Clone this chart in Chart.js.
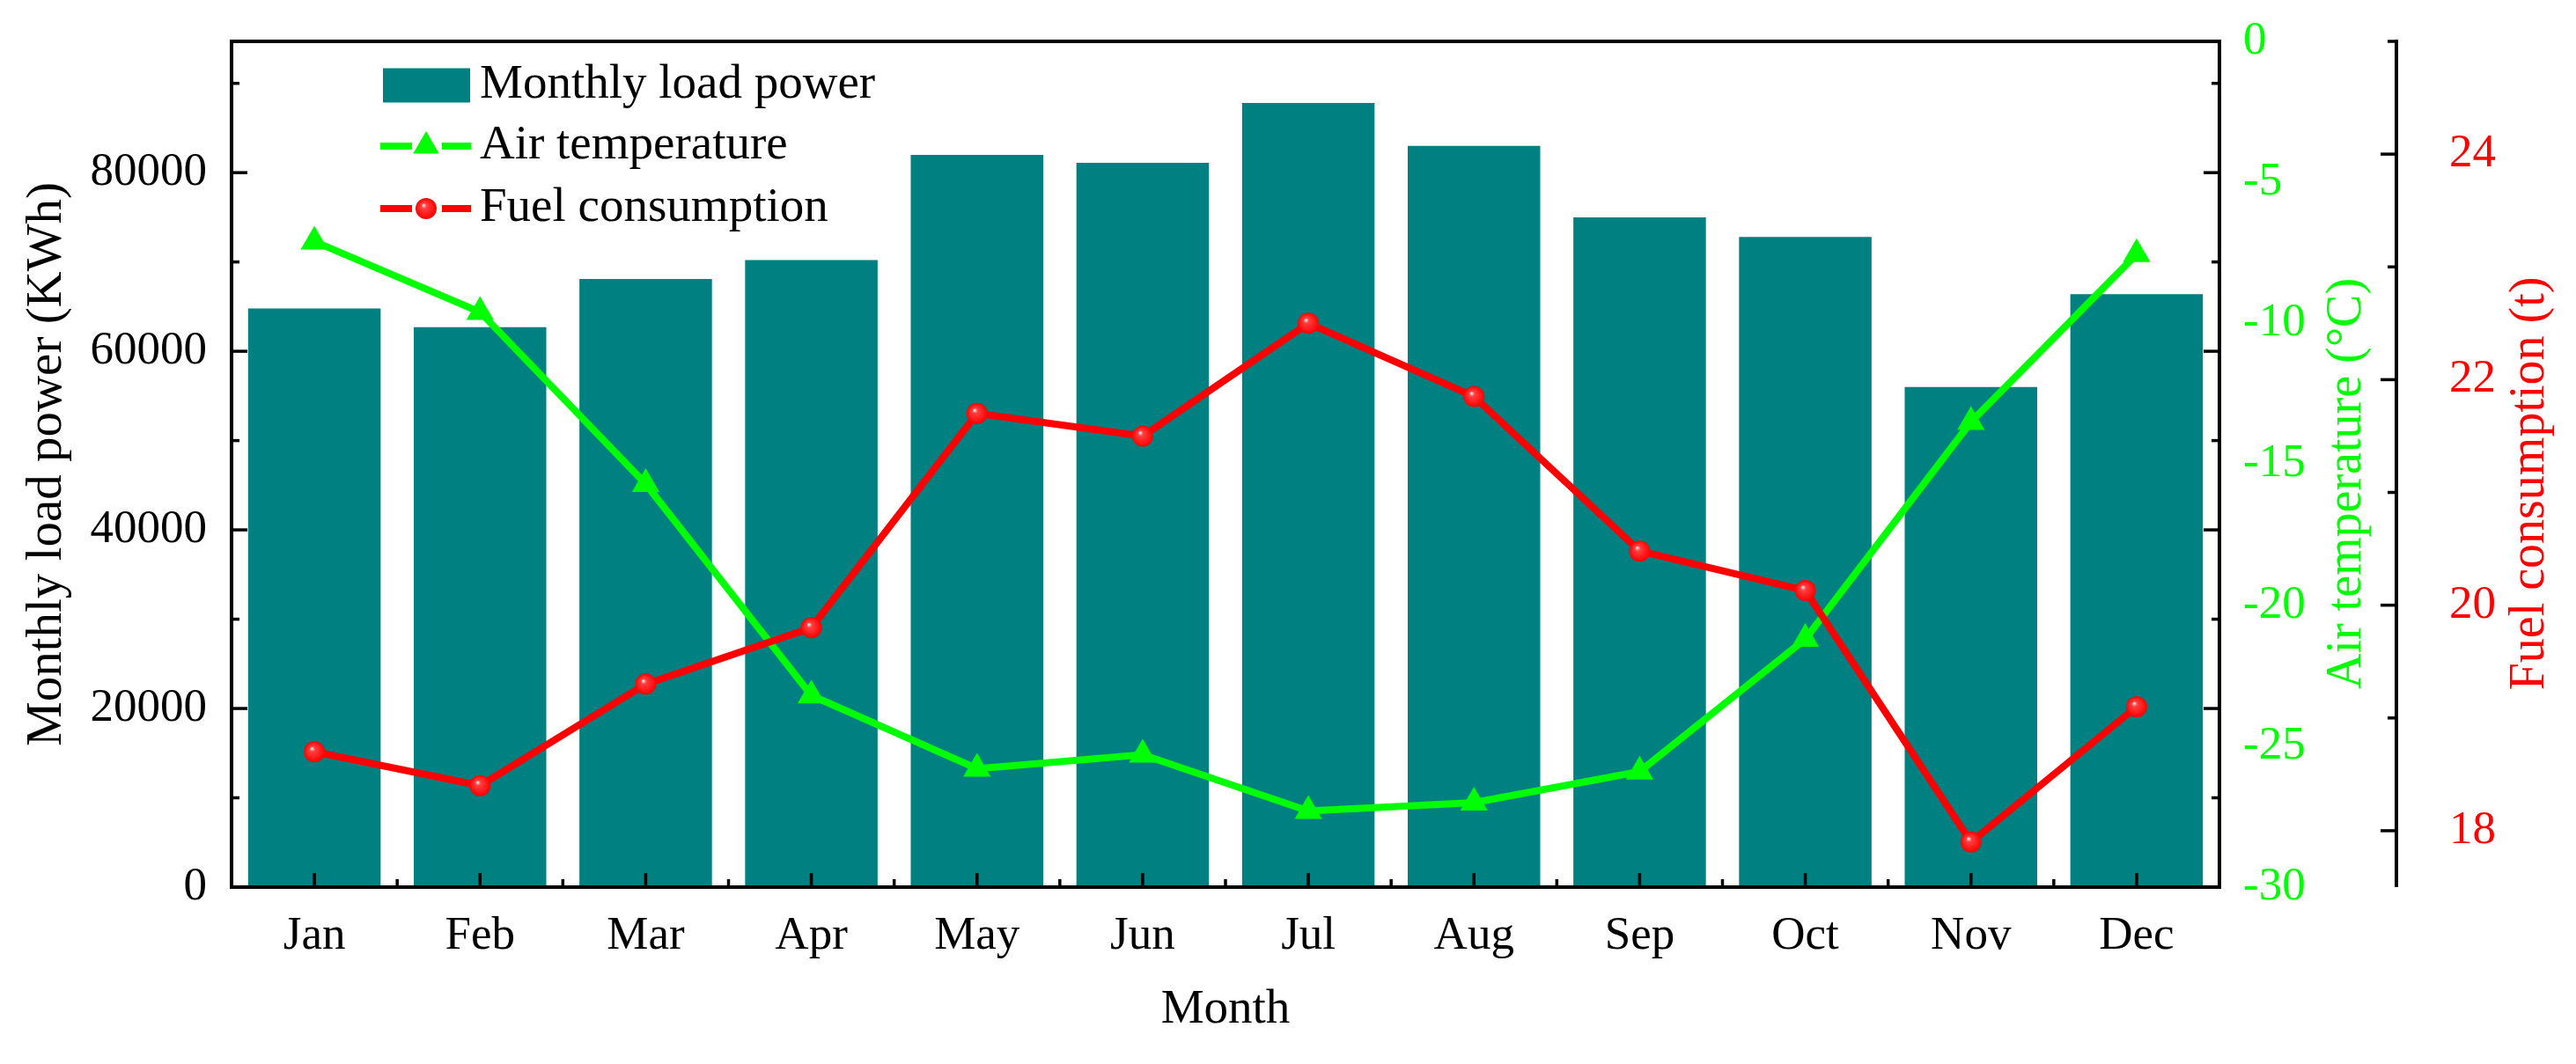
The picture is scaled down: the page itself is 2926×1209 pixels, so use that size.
<!DOCTYPE html>
<html>
<head>
<meta charset="utf-8">
<script src="https://cdn.jsdelivr.net/npm/chart.js@4.4.1/dist/chart.umd.min.js"></script>
<style>
  html, body { margin: 0; padding: 0; background: #fff; }
  #wrap { width: 2926px; height: 1209px; }
</style>
</head>
<body>
<div id="wrap"><canvas id="myChart"></canvas></div>
<script>
const months = ['Jan', 'Feb', 'Mar', 'Apr', 'May', 'Jun', 'Jul', 'Aug', 'Sep', 'Oct', 'Nov', 'Dec'];
const loadPower = [64800, 62700, 68100, 70200, 82000, 81100, 87800, 83000, 75000, 72800, 56000, 66400];
const airTemp = [-7.1, -9.6, -15.7, -23.2, -25.8, -25.3, -27.3, -27.0, -25.9, -21.2, -13.5, -7.55];
const fuelUse = [18.7, 18.4, 19.3, 19.8, 21.7, 21.5, 22.5, 21.85, 20.48, 20.13, 17.9, 19.1];

const loadTicks = [0, 20000, 40000, 60000, 80000];
const loadMinor = [10000, 30000, 50000, 70000, 90000];
const tempTicks = [0, -5, -10, -15, -20, -25, -30];
const fuelTicks = [18, 20, 22, 24];
const fuelMinor = [19, 21, 23, 25];

const TEAL = '#008080';
const GREEN = '#00ff00';
const RED = '#ff0000';
const FONT = '"Liberation Serif", "Times New Roman", serif';

function ballGradient(ctx, x, y) {
  const g = ctx.createRadialGradient(x - 3, y - 4, 0, x, y, 12);
  g.addColorStop(0, '#ffffff');
  g.addColorStop(0.25, '#ff4040');
  g.addColorStop(1, RED);
  return g;
}

// shiny red ball like the origin marker
function redBall(c) {
  const chart = c.chart;
  if (c.type !== 'data' || !chart.scales.x || !chart.scales.yFuel || !c.parsed) return RED;
  const x = chart.scales.x.getPixelForValue(c.dataIndex);
  const y = chart.scales.yFuel.getPixelForValue(c.parsed.y);
  if (!Number.isFinite(x) || !Number.isFinite(y)) return RED;
  return ballGradient(chart.ctx, x, y);
}

// keep chart.js from pushing the plot area in for overflowing labels
function noPad(s) {
  s.paddingTop = 0; s.paddingBottom = 0; s.paddingLeft = 0; s.paddingRight = 0;
}

const framePlugin = {
  id: 'frameTicks',
  afterDatasetsDraw(chart) {
    const { ctx, chartArea: a, scales } = chart;
    const line = (x1, y1, x2, y2) => {
      ctx.beginPath(); ctx.moveTo(x1, y1); ctx.lineTo(x2, y2); ctx.stroke();
    };
    ctx.save();
    ctx.strokeStyle = '#000';
    ctx.lineWidth = 4;
    ctx.strokeRect(a.left, a.top, a.right - a.left, a.bottom - a.top);

    ctx.lineWidth = 3.5;
    const yl = scales.yLoad;
    loadTicks.forEach(v => {
      const y = yl.getPixelForValue(v);
      line(a.left, y, a.left + 18, y);
      line(a.right, y, a.right - 18, y);
    });
    loadMinor.forEach(v => {
      const y = yl.getPixelForValue(v);
      line(a.left, y, a.left + 9, y);
      line(a.right, y, a.right - 9, y);
    });

    const xs = scales.x;
    months.forEach((m, i) => {
      const x = xs.getPixelForValue(i);
      line(x, a.bottom, x, a.bottom - 16);
      if (i > 0) {
        const b = (xs.getPixelForValue(i - 1) + x) / 2;
        line(b, a.bottom, b, a.bottom - 9);
      }
    });

    // fuel axis line
    const yf = scales.yFuel;
    ctx.lineWidth = 4;
    line(yf.left, a.top - 2, yf.left, a.bottom);
    ctx.lineWidth = 3.5;
    fuelTicks.forEach(v => {
      const y = yf.getPixelForValue(v);
      line(yf.left, y, yf.left - 18, y);
    });
    fuelMinor.forEach(v => {
      const y = yf.getPixelForValue(v);
      line(yf.left, y, yf.left - 10, y);
    });

    // right hand titles read bottom to top
    const vTitle = (text, color, x, y) => {
      ctx.save();
      ctx.translate(x, y);
      ctx.rotate(-Math.PI / 2);
      ctx.fillStyle = color;
      ctx.font = '56px ' + FONT;
      ctx.textAlign = 'center';
      ctx.textBaseline = 'middle';
      ctx.fillText(text, 0, 0);
      ctx.restore();
    };
    const midY = (a.top + a.bottom) / 2 + 22;
    vTitle('Air temperature (\u00B0C)', GREEN, scales.yTemp.right - 56, midY);
    vTitle('Fuel consumption (t)', RED, yf.right - 52, midY);

    // legend
    const lx = a.left + 172, lw = 99, tx = a.left + 282;
    const rows = [a.top + 50, a.top + 119, a.top + 190];
    ctx.font = '55px ' + FONT;
    ctx.textAlign = 'left';
    ctx.textBaseline = 'alphabetic';

    ctx.fillStyle = TEAL;
    ctx.fillRect(lx, rows[0] - 19.5, lw, 39);
    ctx.fillStyle = '#000';
    ctx.fillText('Monthly load power', tx, rows[0] + 14);

    ctx.lineWidth = 8;
    ctx.strokeStyle = GREEN;
    line(lx - 3, rows[1], lx + 33, rows[1]);
    line(lx + 67, rows[1], lx + lw + 1, rows[1]);
    ctx.fillStyle = GREEN;
    Chart.helpers.drawPoint(ctx, { pointStyle: 'triangle', radius: 17, borderWidth: 0 }, lx + 49, rows[1]);
    ctx.fillStyle = '#000';
    ctx.fillText('Air temperature', tx, rows[1] + 14);

    ctx.strokeStyle = RED;
    line(lx - 3, rows[2], lx + 33, rows[2]);
    line(lx + 67, rows[2], lx + lw + 1, rows[2]);
    ctx.fillStyle = ballGradient(ctx, lx + 49, rows[2]);
    Chart.helpers.drawPoint(ctx, { pointStyle: 'circle', radius: 12, borderWidth: 0 }, lx + 49, rows[2]);
    ctx.fillStyle = '#000';
    ctx.fillText('Fuel consumption', tx, rows[2] + 14);
    ctx.restore();
  }
};

function mainEvent() {
  const ctx = document.getElementById('myChart');
  new Chart(ctx, {
    type: 'bar',
    data: {
      labels: months,
      datasets: [
        {
          type: 'line',
          label: 'Fuel consumption',
          data: fuelUse,
          yAxisID: 'yFuel',
          borderColor: RED,
          borderWidth: 8,
          pointStyle: 'circle',
          pointRadius: 12,
          pointBorderWidth: 0,
          pointBackgroundColor: redBall,
          order: 0
        },
        {
          type: 'line',
          label: 'Air temperature',
          data: airTemp,
          yAxisID: 'yTemp',
          borderColor: GREEN,
          borderWidth: 8,
          pointStyle: 'triangle',
          pointRadius: 18,
          pointBorderWidth: 0,
          pointBackgroundColor: GREEN,
          order: 1
        },
        {
          label: 'Monthly load power',
          data: loadPower,
          yAxisID: 'yLoad',
          backgroundColor: TEAL,
          barPercentage: 0.8,
          categoryPercentage: 1.0,
          order: 2
        }
      ]
    },
    options: {
      responsive: true,
      maintainAspectRatio: false,
      devicePixelRatio: 1,
      animation: false,
      layout: { padding: { top: 47, left: 0, right: 0, bottom: 0 } },
      plugins: { legend: { display: false }, tooltip: { enabled: false } },
      scales: {
        x: {
          offset: true,
          grid: { display: false },
          border: { display: false },
          ticks: { color: '#000', font: { family: FONT, size: 53 }, padding: 16, maxRotation: 0, autoSkip: false },
          title: { display: true, text: 'Month', color: '#000', font: { family: FONT, size: 55 }, padding: { top: 0, bottom: 28 } },
          afterFit: (s) => { s.height = 201; noPad(s); }
        },
        yLoad: {
          position: 'left',
          min: 0,
          max: 94700,
          grid: { display: false },
          border: { display: false },
          ticks: { color: '#000', font: { family: FONT, size: 53 }, padding: 20, callback: (v) => String(v) },
          afterBuildTicks: (s) => { s.ticks = loadTicks.map(v => ({ value: v })); },
          title: { display: true, text: 'Monthly load power (KWh)', color: '#000', font: { family: FONT, size: 57 }, padding: { top: 20, bottom: 0 } },
          afterFit: (s) => { s.width = 263; noPad(s); }
        },
        yTemp: {
          position: 'right',
          weight: 0,
          min: -30,
          max: 0,
          grid: { display: false },
          border: { display: false },
          ticks: { color: GREEN, font: { family: FONT, size: 53 }, padding: 19, callback: (v) => String(v) },
          afterBuildTicks: (s) => { s.ticks = tempTicks.map(v => ({ value: v })); },
          afterFit: (s) => { s.width = 201; noPad(s); }
        },
        yFuel: {
          position: 'right',
          weight: 1,
          min: 17.5,
          max: 25,
          grid: { display: false },
          border: { display: false },
          ticks: { color: RED, font: { family: FONT, size: 53 }, padding: 52, callback: (v) => String(v) },
          afterBuildTicks: (s) => { s.ticks = fuelTicks.map(v => ({ value: v })); },
          afterFit: (s) => { s.width = 204; noPad(s); }
        }
      }
    },
    plugins: [framePlugin]
  });
}

document.addEventListener('DOMContentLoaded', () => mainEvent());
</script>
</body>
</html>
